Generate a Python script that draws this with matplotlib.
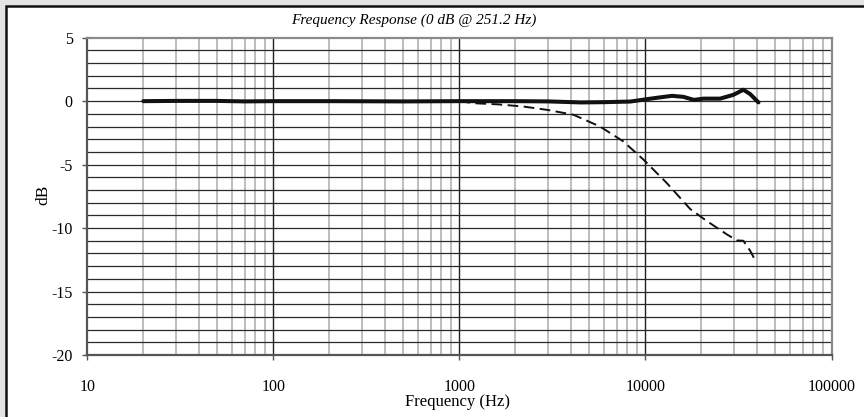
import numpy as np
import matplotlib
matplotlib.use("Agg")
import matplotlib.pyplot as plt
from matplotlib.patches import Rectangle
from matplotlib.ticker import FixedLocator, NullFormatter

# ---- data ----
solid_freq = [20, 30, 50, 70, 100, 200, 500, 1000, 2000, 3000, 4500, 6000, 8300,
              10200, 12000, 13900, 16000, 18200, 20500, 25200, 29700, 33600, 36600, 40500]
solid_db = [0.0, 0.02, 0.02, -0.02, 0.0, 0.0, -0.02, 0.0, 0.0, -0.02, -0.1, -0.08, -0.03,
            0.16, 0.3, 0.42, 0.34, 0.1, 0.2, 0.2, 0.5, 0.9, 0.55, -0.1]

dash_freq = [1000, 1190, 1600, 2200, 3000, 4100, 5700, 7600, 9750, 13000, 17400,
             21400, 27400, 31000, 33600, 36600, 39400]
dash_db = [0.0, -0.16, -0.25, -0.42, -0.7, -1.07, -2.0, -3.17, -4.6, -6.44, -8.5,
           -9.45, -10.5, -10.97, -11.0, -11.8, -12.7]

x_ticks = [10, 100, 1000, 10000, 100000]
x_tick_labels = ["10", "100", "1000", "10000", "100000"]
y_ticks = [5, 0, -5, -10, -15, -20]
y_tick_labels = ["5", "0", "-5", "-10", "-15", "-20"]

title = "Frequency Response (0 dB @ 251.2 Hz)"
xlabel = "Frequency (Hz)"
ylabel = "dB"

# ---- figure ----
W, H = 864, 417
fig = plt.figure(figsize=(W / 100, H / 100), dpi=100, facecolor="#e4e4e4")
serif = ["Liberation Serif", "DejaVu Serif"]

# white panel with black border on top/left
fig.patches.append(Rectangle((5.5 / W, -0.1), 1.2, (H - 6.0) / H + 0.1,
                             transform=fig.transFigure, facecolor="white",
                             edgecolor="#111111", linewidth=1.8, zorder=-10))

ax = fig.add_axes([87.3 / W, 1 - 355 / H, (831.5 - 87.3) / W, (355 - 37.7) / H])
ax.set_zorder(5)
ax.set_facecolor("white")
ax.set_xscale("log")
ax.set_xlim(10, 100000)
ax.set_ylim(-20, 5)

# grid
minor = [m * 10 ** d for d in range(1, 5) for m in range(2, 10)]
for f in minor:
    ax.axvline(f, color="#bdbdbd", lw=1.4, zorder=1)
for f in x_ticks[1:-1]:
    ax.axvline(f, color="#222222", lw=1.0, zorder=2)
for yv in range(-19, 5):
    ax.axhline(yv, color="#2a2a2a", lw=0.9, zorder=2)

ax.plot(dash_freq, dash_db, color="#111111", lw=1.4, ls=(0, (5.5, 2.8)), zorder=3)
ax.plot(solid_freq, solid_db, color="#111111", lw=2.9, zorder=4,
        solid_capstyle="round", solid_joinstyle="round")

ax.xaxis.set_major_locator(FixedLocator(x_ticks))
ax.xaxis.set_minor_locator(FixedLocator([]))
ax.xaxis.set_minor_formatter(NullFormatter())
ax.set_xticks(x_ticks)
ax.set_xticklabels(x_tick_labels, fontfamily=serif, fontsize=11.5)
ax.set_yticks(y_ticks)
ax.set_yticklabels(y_tick_labels, fontfamily=serif, fontsize=11.5)
ax.tick_params(axis="x", direction="out", length=3.5, width=1, color="#555555", pad=13.5)
ax.tick_params(axis="y", direction="out", length=3.5, width=1, color="#555555", pad=7)

for side in ["left", "bottom"]:
    ax.spines[side].set_color("#555555")
    ax.spines[side].set_linewidth(1.6)
for side in ["right", "top"]:
    ax.spines[side].set_color("#8a8a8a")
    ax.spines[side].set_linewidth(1.6)

fig.text(413.5 / W, 1 - 24 / H, title, ha="center", va="baseline",
         fontfamily=serif, fontstyle="italic", fontsize=11)
fig.text(457 / W, 1 - 406 / H, xlabel, ha="center", va="baseline",
         fontfamily=serif, fontsize=12)
fig.text(43 / W, 1 - 195 / H, ylabel, ha="center", va="center", rotation=90,
         fontfamily=serif, fontsize=12.5)

fig.savefig("out.png", dpi=100, facecolor=fig.get_facecolor())
